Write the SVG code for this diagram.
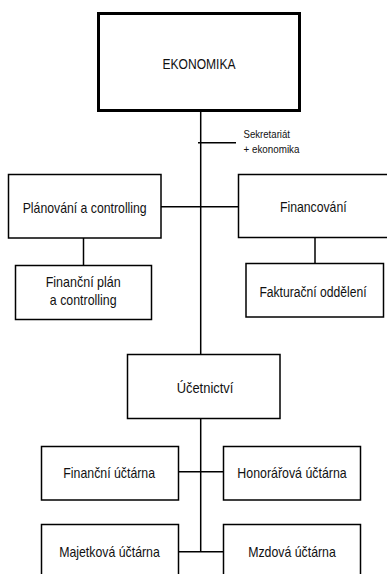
<svg xmlns="http://www.w3.org/2000/svg" width="387" height="574" viewBox="0 0 387 574">
<style>
.box{fill:#fff;stroke:#000;stroke-width:1.5}
.top{fill:#fff;stroke:#000;stroke-width:3}
.lbl{font-family:"Liberation Sans",Arial,sans-serif;font-size:15px;fill:#111;text-anchor:middle}
.sm{font-family:"Liberation Sans",Arial,sans-serif;font-size:11.5px;fill:#111}
.ln{stroke:#000;stroke-width:1.5;fill:none}
</style>
<rect width="387" height="574" fill="#fff"/>
<g id="connectors">
<line class="ln" x1="200.7" y1="112" x2="200.7" y2="552"/>
<line class="ln" x1="198" y1="142.7" x2="236" y2="142.7"/>
<line class="ln" x1="161" y1="206.7" x2="238.5" y2="206.7"/>
<line class="ln" x1="83.5" y1="238" x2="83.5" y2="265.5"/>
<line class="ln" x1="315" y1="237.5" x2="315" y2="263.5"/>
<line class="ln" x1="178.5" y1="471.7" x2="223.5" y2="471.7"/>
<line class="ln" x1="178.5" y1="551.7" x2="223.5" y2="551.7"/>
</g>
<g id="ekonomika">
<rect class="top" x="98.5" y="13.5" width="201" height="97"/>
<text class="lbl" x="199" y="68.5" textLength="73" lengthAdjust="spacingAndGlyphs">EKONOMIKA</text>
</g>
<g id="sekretariat">
<text class="sm" x="243.5" y="137.5" textLength="46.5" lengthAdjust="spacingAndGlyphs">Sekretariát</text>
<text class="sm" x="243.5" y="153" textLength="56" lengthAdjust="spacingAndGlyphs">+ ekonomika</text>
</g>
<g id="planovani">
<rect class="box" x="8.5" y="174.5" width="152.5" height="63.5"/>
<text class="lbl" x="84.7" y="212.7" textLength="124" lengthAdjust="spacingAndGlyphs">Plánování a controlling</text>
</g>
<g id="financovani">
<rect class="box" x="238.5" y="174.5" width="155" height="63"/>
<text class="lbl" x="313.3" y="211.7" textLength="66.7" lengthAdjust="spacingAndGlyphs">Financování</text>
</g>
<g id="financni-plan">
<rect class="box" x="15.5" y="265.5" width="136" height="54"/>
<text class="lbl" x="83.2" y="287" textLength="75" lengthAdjust="spacingAndGlyphs">Finanční plán</text>
<text class="lbl" x="83.2" y="305" textLength="66.7" lengthAdjust="spacingAndGlyphs">a controlling</text>
</g>
<g id="fakturacni">
<rect class="box" x="246" y="263.5" width="137.5" height="53.5"/>
<text class="lbl" transform="translate(313,296.5) scale(0.81,1)" x="0" y="0">Fakturační oddělení</text>
</g>
<g id="ucetnictvi">
<rect class="box" x="127.5" y="354.5" width="152.5" height="64"/>
<text class="lbl" x="205" y="392.7" textLength="56.7" lengthAdjust="spacingAndGlyphs">Účetnictví</text>
</g>
<g id="financni-uctarna">
<rect class="box" x="41.5" y="446.5" width="137" height="53.5"/>
<text class="lbl" x="109.2" y="478.3" textLength="91.7" lengthAdjust="spacingAndGlyphs">Finanční účtárna</text>
</g>
<g id="honorarova-uctarna">
<rect class="box" x="223.5" y="446.5" width="137" height="53.5"/>
<text class="lbl" x="292" y="478.3" textLength="109.3" lengthAdjust="spacingAndGlyphs">Honorářová účtárna</text>
</g>
<g id="majetkova-uctarna">
<rect class="box" x="41.5" y="524.5" width="137" height="60"/>
<text class="lbl" x="109.5" y="557" textLength="100.7" lengthAdjust="spacingAndGlyphs">Majetková účtárna</text>
</g>
<g id="mzdova-uctarna">
<rect class="box" x="223.5" y="524.5" width="137" height="60"/>
<text class="lbl" x="292" y="557" textLength="87.7" lengthAdjust="spacingAndGlyphs">Mzdová účtárna</text>
</g>
</svg>
